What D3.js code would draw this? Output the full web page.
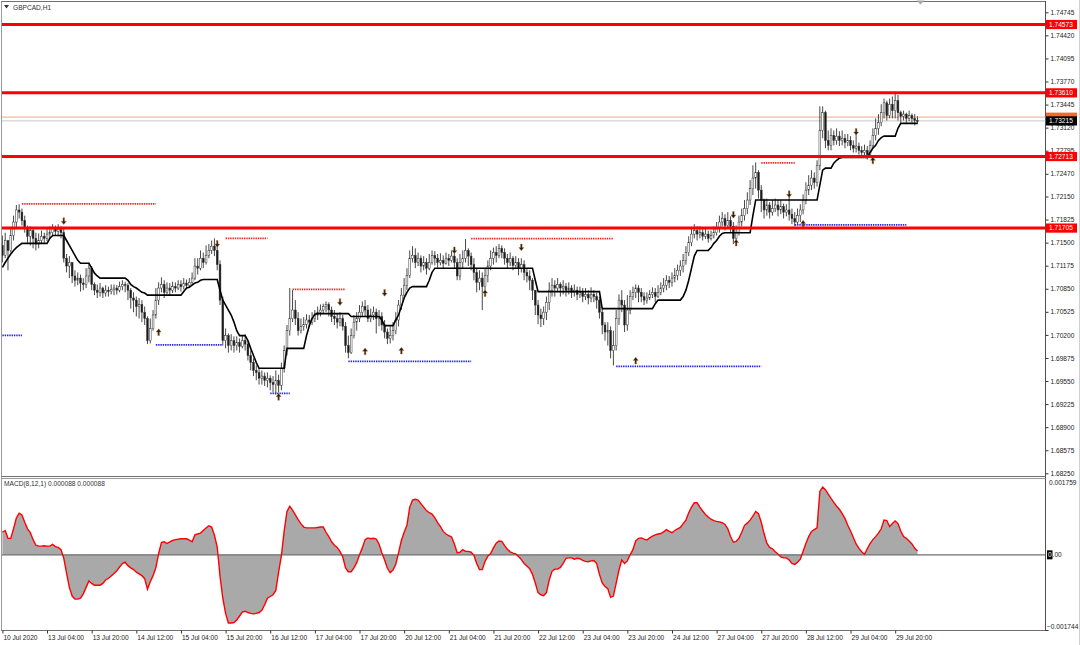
<!DOCTYPE html>
<html><head><meta charset="utf-8">
<script src="https://cdn.jsdelivr.net/npm/d3@7"></script>
<style>body{margin:0;background:#fff}svg{display:block}text{font-family:"Liberation Sans",Arial,sans-serif}</style>
</head><body><svg id="c" width="1080" height="645"></svg>
<script>
// ---------- DATA ----------
// Candle prices are in pips (0.0001) above 1.70000; bar i = i-th H1 bar from 10 Jul 2020 12:00
const BASE = 1.7;
const open0 = 146;
const closeP = [132,153,139,160,179,196,193,181,170,159,
167,156,148,153,159,156,162,164,170,166,
169,164,128,117,122,103,97,100,93,91,
103,114,91,83,80,86,79,83,81,84,
86,83,88,91,90,83,72,69,60,63,
52,43,12,29,48,69,86,91,80,86,
83,88,86,91,88,93,90,94,100,117,
114,128,122,132,139,145,139,119,69,12,
19,5,12,5,9,4,12,7,-9,-19,
-30,-33,-41,-38,-44,-41,-47,-50,-44,-51,
-27,-2,26,43,55,43,26,32,35,41,
38,43,48,52,55,60,63,55,46,43,
38,43,32,5,-5,19,38,43,52,60,
55,43,48,52,43,46,34,24,15,19,
26,41,62,76,90,104,128,132,122,128,
117,122,114,122,132,128,122,125,121,128,
125,131,122,103,122,128,139,131,119,108,
94,100,88,104,117,128,136,132,142,136,
128,122,128,118,122,114,119,108,103,97,
83,62,48,43,52,66,83,90,86,91,
86,88,83,86,80,83,77,80,74,77,
72,77,74,69,52,34,24,26,-2,5,
43,69,62,34,55,74,80,86,80,74,
69,72,77,80,74,80,86,90,97,94,
100,104,111,117,125,136,150,162,167,162,
164,159,162,156,160,164,170,179,184,174,
181,173,156,164,179,188,198,210,226,241,
249,224,210,196,203,193,198,203,196,201,
193,196,190,184,179,188,196,210,224,231,
241,235,259,308,333,294,287,301,294,300,
294,297,291,294,287,283,286,280,277,280,
274,287,301,311,319,333,347,329,345,336,
350,333,328,331,325,329,325,322,321.5];
const highP = [160,164,153,170,188,203,204,198,188,174,
173,170,164,163,167,164,169,173,176,174,
176,173,170,134,131,122,111,108,105,100,
114,122,117,94,91,93,88,90,88,91,
91,90,95,97,95,93,86,80,74,72,
69,60,46,43,55,86,94,101,97,94,
93,95,94,97,97,100,98,100,108,128,
128,139,136,146,148,153,156,145,125,74,
29,22,21,18,18,15,19,21,12,-2,
-13,-23,-27,-30,-33,-33,-37,-38,-30,-36,
-19,5,34,86,83,69,52,43,45,49,
48,52,55,60,63,64,67,66,60,55,
50,52,48,38,19,29,48,52,62,67,
69,62,57,60,57,55,52,41,29,32,
38,52,69,86,100,114,139,145,142,136,
132,131,128,134,139,138,134,135,132,136,
134,139,136,128,134,139,155,142,136,128,
114,111,108,114,125,139,143,145,148,146,
142,134,136,131,131,128,128,125,114,111,
100,83,69,57,60,74,94,100,97,100,
94,97,93,94,90,91,88,88,86,86,
83,87,83,80,74,57,38,38,32,26,
55,77,83,69,76,83,88,91,90,86,
80,80,83,87,86,90,94,100,104,103,
108,114,119,125,134,145,159,170,176,173,
173,170,169,167,167,173,179,188,193,190,
193,187,179,174,188,198,210,221,238,259,
263,252,231,212,212,207,210,212,210,210,
205,204,215,198,193,198,204,218,235,245,
252,249,266,342,342,336,308,311,308,311,
307,308,303,303,300,294,308,291,286,288,
286,294,311,325,331,345,353,350,353,356,
360,358,336,336,333,336,332,331,328];
const lowP = [122,128,111,136,153,170,184,174,164,150,
146,142,139,142,148,150,152,156,159,160,
159,156,122,108,100,93,88,90,81,83,
86,94,83,76,72,74,72,74,74,77,
76,77,80,83,80,69,57,52,46,43,
38,34,7,8,26,43,62,80,72,77,
76,79,80,83,81,84,84,86,90,97,
105,111,114,119,128,134,131,111,62,5,
1,-5,-2,-5,-2,-5,1,-2,-16,-30,
-38,-44,-50,-50,-52,-54,-58,-61,-64,-61,
-58,-33,-9,19,38,34,19,22,26,29,
31,34,38,41,46,49,52,46,38,34,
29,32,26,-5,-13,-7,15,26,38,46,
46,38,38,41,22,32,26,15,7,8,
12,21,32,55,72,83,100,122,114,117,
108,111,105,111,119,118,115,118,114,119,
117,122,114,97,97,114,122,117,111,97,
80,83,55,83,94,111,119,122,128,128,
119,114,117,111,114,104,108,97,94,83,
69,48,35,31,34,41,55,74,74,80,
74,77,74,77,72,74,69,72,66,69,
63,66,66,57,43,21,12,5,-13,-23,
-2,34,52,24,26,49,69,72,66,66,
62,64,69,72,66,72,76,80,83,86,
88,94,97,103,108,119,131,145,156,153,
156,153,155,150,153,156,160,164,173,167,
170,164,148,150,160,173,181,190,203,217,
226,212,193,184,188,184,188,193,187,190,
184,187,181,176,173,176,179,190,204,217,
224,226,229,252,297,283,280,280,287,288,
286,287,283,286,280,277,277,274,271,270,
267,270,283,294,302,314,325,322,325,325,
325,322,319,322,319,321,319,315,317];
// black trailing line, pips above 1.70000
const trailP = [115,122,128,134,139,143,146,149,149,149,
149,149,149,149,149,149,149,156,160,160,
160,160,160,153,146,139,132,125,121,121,
121,121,114,107,103,100,100,100,100,100,
100,100,100,100,100,97,91,88,86,83,
80,79,76,76,76,76,76,76,76,76,
76,76,76,76,76,81,86,87,90,93,
94,97,98,98,98,98,98,98,83,69,
62,55,48,38,26,19,19,19,12,1,
-9,-19,-27,-27,-27,-27,-27,-27,-27,-27,
-27,-27,1,1,1,1,1,1,1,19,
33,43,49,50,50,50,50,50,50,50,
50,50,50,50,50,46,46,46,46,46,
46,46,46,46,46,46,41,33,33,33,
33,41,48,60,72,80,86,88,88,88,
88,88,88,97,108,114,114,114,114,114,
114,114,114,114,114,114,114,114,114,114,
114,114,114,114,114,114,114,114,114,114,
114,114,114,114,114,114,114,114,114,114,
114,97,81,81,81,81,81,81,81,81,
81,81,81,81,81,81,81,81,81,81,
81,81,81,81,81,57,57,57,57,57,
57,57,57,57,57,57,57,57,57,57,
57,57,57,57,64,69,69,69,69,69,
69,69,69,69,74,83,97,114,131,139,
139,139,139,139,143,149,153,159,163,164,
164,164,164,164,164,164,164,164,164,188,
210,210,210,210,210,210,210,210,210,210,
210,210,210,210,210,210,210,210,210,210,
210,210,210,231,252,255,255,255,262,266,
269,270,270,270,270,270,270,270,270,270,
270,277,283,287,294,298,300,300,300,300,
300,311,318,318,318,318,318,318,318];
// MACD(8,12,1) main value, units of 0.00001
const macdV = [52,56,38,38,60,85,96,92,75,60,
51,35,22,20,20,21,20,20,24,19,
17,12,-8,-42,-75,-95,-102,-102,-100,-90,
-75,-60,-66,-70,-70,-70,-66,-58,-54,-49,
-43,-37,-28,-20,-17,-25,-30,-34,-40,-44,
-48,-55,-79,-62,-48,-30,3,28,30,26,
30,33,35,36,37,37,37,34,30,46,
48,50,56,62,67,64,45,18,-49,-100,
-135,-157,-157,-156,-150,-141,-132,-130,-133,-135,
-136,-135,-133,-128,-115,-100,-96,-92,-82,-40,
-2,55,100,112,103,92,81,72,64,62,
62,62,62,63,64,64,52,42,30,22,
17,8,-5,-30,-39,-39,-30,-18,0,16,
35,39,37,38,36,25,5,-12,-31,-41,
-35,-22,5,33,52,68,110,126,128,126,
118,110,102,97,94,85,74,65,54,48,
44,41,25,5,6,12,8,8,6,-1,
-20,-34,-34,-15,-3,3,16,27,32,31,
21,13,7,4,2,-4,-11,-20,-26,-32,
-45,-65,-87,-92,-94,-87,-58,-38,-33,-33,
-29,-20,-8,-7,-7,-10,-8,-9,-13,-15,
-16,-14,-13,-20,-45,-65,-73,-78,-98,-95,
-65,-35,-12,-20,-14,0,12,32,38,39,
36,34,39,43,46,48,49,53,58,54,
51,56,60,63,72,80,97,110,120,120,
110,101,93,87,82,79,77,76,74,70,
60,42,29,31,38,52,68,73,80,89,
100,95,75,49,27,17,14,7,2,-5,
-7,-7,-12,-20,-22,-17,-10,8,26,42,
54,58,62,146,156,150,140,130,121,112,
105,95,84,68,55,40,25,15,7,1,
14,26,35,42,50,60,80,79,65,72,
78,72,55,42,38,32,25,15,9];

const priceTicks = [1.74745,1.74420,1.74095,1.73770,1.73445,1.73120,1.72795,1.72470,1.72150,1.71825,1.71500,1.71175,1.70850,1.70525,1.70200,1.69875,1.69550,1.69225,1.68900,1.68575,1.68250];
const timeTickBars = [0,16,32,48,64,80,96,112,128,144,160,176,192,208,224,240,256,272,288,304,320];
const timeTickLabels = ["10 Jul 2020","13 Jul 04:00","13 Jul 20:00","14 Jul 12:00","15 Jul 04:00","15 Jul 20:00","16 Jul 12:00","17 Jul 04:00","17 Jul 20:00","20 Jul 12:00","21 Jul 04:00","21 Jul 20:00","22 Jul 12:00","23 Jul 04:00","23 Jul 20:00","24 Jul 12:00","27 Jul 04:00","27 Jul 20:00","28 Jul 12:00","29 Jul 04:00","29 Jul 20:00"];
const levelPrices = [1.74573,1.73610,1.72713,1.71705];
const askPrice = 1.73267, bidPrice = 1.73215;
const resPrice = [1.72047,1.71561,1.70842,1.71555,1.72624];
const resFrom = [7,80,104,168,272];
const resTo = [55,95,123,219,284];
const supPrice = [1.70194,1.70060,1.69377,1.69828,1.69757,1.71751];
const supFrom = [0,55,96,124,220,284];
const supTo = [7,79,103,168,272,324];
const downBars = [22,77,121,137,162,186,262,282,306];
const downPrices = [1.71800,1.71480,1.70660,1.70790,1.71390,1.71430,1.71890,1.72180,1.73060];
const upBars = [56,99,130,143,173,227,263,287,312];
const upPrices = [1.70240,1.69330,1.69970,1.69980,1.70790,1.69840,1.71500,1.71770,1.72660];
const macdMax = 0.001759, macdMin = -0.001744;
const title = "GBPCAD,H1";
const macdTitle = "MACD(8,12,1) 0.000088 0.000088";

// ---------- DRAWING ----------
const FS = 6.6;
const svg = d3.select("#c");
const n = closeP.length;
const px = v => BASE + v / 10000;
const x = d3.scaleLinear().domain([0, 328]).range([2.4, 917.5]);
const y = d3.scaleLinear().domain([1.68250, 1.74745]).range([473.3, 12.3]);
const ym = d3.scaleLinear().domain([macdMin, macdMax]).range([630.5, 478.5]);
const R = 1045.5;

svg.append("rect").attr("width", 1080).attr("height", 645).attr("fill", "#fff");
const defs = svg.append("defs");
defs.append("clipPath").attr("id", "cm").append("rect").attr("x", 2).attr("y", 2).attr("width", R - 2).attr("height", 474);
defs.append("clipPath").attr("id", "cd").append("rect").attr("x", 2).attr("y", 479).attr("width", R - 2).attr("height", 151);

// frames
const frame = svg.append("g").attr("fill", "none");
frame.append("line").attr("x1", 1.5).attr("x2", 1.5).attr("y1", 1).attr("y2", 631).attr("stroke", "#9a9a9a");
frame.append("line").attr("x1", 1.5).attr("x2", R).attr("y1", 1.5).attr("y2", 1.5).attr("stroke", "#707070");
frame.append("line").attr("x1", R).attr("x2", R).attr("y1", 1).attr("y2", 631).attr("stroke", "#505050");
frame.append("line").attr("x1", 1.5).attr("x2", R).attr("y1", 476.5).attr("y2", 476.5).attr("stroke", "#707070");
frame.append("line").attr("x1", 1.5).attr("x2", R).attr("y1", 478.5).attr("y2", 478.5).attr("stroke", "#9a9a9a");
frame.append("line").attr("x1", 1.5).attr("x2", R).attr("y1", 630.5).attr("y2", 630.5).attr("stroke", "#707070");
frame.append("line").attr("x1", 1079.5).attr("x2", 1079.5).attr("y1", 0).attr("y2", 645).attr("stroke", "#d0d0d0");

const main = svg.append("g").attr("clip-path", "url(#cm)");

// bid / ask lines
main.append("line").attr("x1", 2).attr("x2", R).attr("y1", y(askPrice)).attr("y2", y(askPrice)).attr("stroke", "#f6b79a").attr("stroke-width", 1.2);
main.append("line").attr("x1", 2).attr("x2", R).attr("y1", y(bidPrice)).attr("y2", y(bidPrice)).attr("stroke", "#c8c8c8").attr("stroke-width", 1);

// candles
const idx = d3.range(n);
const openOf = i => i === 0 ? open0 : closeP[i - 1];
const cg = main.append("g");
cg.selectAll("line.w").data(idx).join("line")
  .attr("x1", i => x(i)).attr("x2", i => x(i))
  .attr("y1", i => y(px(highP[i]))).attr("y2", i => y(px(lowP[i])))
  .attr("stroke", "#333").attr("stroke-width", 0.9);
cg.selectAll("rect.b").data(idx).join("rect")
  .attr("x", i => x(i) - 0.9).attr("width", 1.8)
  .attr("y", i => y(px(Math.max(openOf(i), closeP[i]))))
  .attr("height", i => Math.max(0.8, Math.abs(y(px(openOf(i))) - y(px(closeP[i])))))
  .attr("fill", i => closeP[i] >= openOf(i) ? "#fff" : "#1a1a1a")
  .attr("stroke", "#333").attr("stroke-width", 0.5);

// trailing black line
main.append("path").datum(trailP)
  .attr("d", d3.line().x((d, i) => x(i)).y(d => y(px(d))))
  .attr("fill", "none").attr("stroke", "#000").attr("stroke-width", 1.6);

// fractal dotted levels
main.selectAll("line.res").data(resPrice).join("line")
  .attr("x1", (d, i) => x(resFrom[i])).attr("x2", (d, i) => x(resTo[i]))
  .attr("y1", d => y(d)).attr("y2", d => y(d))
  .attr("stroke", "#ff2020").attr("stroke-width", 1.8).attr("stroke-dasharray", "1.4 0.9");
main.selectAll("line.sup").data(supPrice).join("line")
  .attr("x1", (d, i) => x(supFrom[i])).attr("x2", (d, i) => x(supTo[i]))
  .attr("y1", d => y(d)).attr("y2", d => y(d))
  .attr("stroke", "#2020ff").attr("stroke-width", 1.8).attr("stroke-dasharray", "1.4 0.9");

// arrows
function arrowPath(cx, cy, down) {
  const s = down ? 1 : -1;
  return `M${cx - 0.8},${cy - 3.5 * s} L${cx + 0.8},${cy - 3.5 * s} L${cx + 0.8},${cy} L${cx + 2.5},${cy} L${cx},${cy + 3.2 * s} L${cx - 2.5},${cy} L${cx - 0.8},${cy} Z`;
}
main.selectAll("path.dn").data(downBars).join("path")
  .attr("d", (b, i) => arrowPath(x(b), y(downPrices[i]), true))
  .attr("fill", "#1c1c1c").attr("stroke", "#c17a2e").attr("stroke-width", 0.5);
main.selectAll("path.up").data(upBars).join("path")
  .attr("d", (b, i) => arrowPath(x(b), y(upPrices[i]), false))
  .attr("fill", "#1c1c1c").attr("stroke", "#c17a2e").attr("stroke-width", 0.5);

// red horizontal levels
main.selectAll("line.lv").data(levelPrices).join("line")
  .attr("x1", 2).attr("x2", R).attr("y1", d => y(d)).attr("y2", d => y(d))
  .attr("stroke", "#ff0000").attr("stroke-width", 3);

// right price axis
const ay = svg.append("g").attr("transform", `translate(${R},0)`)
  .call(d3.axisRight(y).tickValues(priceTicks).tickFormat(d3.format(".5f")).tickSize(3).tickPadding(2));
ay.select(".domain").remove();
ay.selectAll("line").attr("stroke", "#333");
ay.selectAll("text").attr("font-size", FS).attr("fill", "#222").attr("font-family", '"Liberation Sans",Arial,sans-serif');

// level labels
const lab = svg.append("g");
function priceLabel(p, bg, fg, withText) {
  lab.append("rect").attr("x", 1046).attr("y", y(p) - 4.6).attr("width", 31).attr("height", 9.2).attr("fill", bg);
  if (withText) lab.append("text").attr("x", 1049).attr("y", y(p) + 2.4).attr("font-size", FS).attr("fill", fg).text(d3.format(".5f")(p));
}
levelPrices.forEach(p => priceLabel(p, "#ff0000", "#fff", true));
priceLabel(askPrice, "#f26b2a", "#fff", false); // ask label lies under the bid label; its text is hidden
priceLabel(bidPrice, "#000", "#fff", true);

// bottom time axis
const ax = svg.append("g").attr("transform", "translate(0,630.5)")
  .call(d3.axisBottom(x).tickValues(timeTickBars).tickFormat((d, i) => timeTickLabels[i]).tickSize(3).tickPadding(1.5));
ax.select(".domain").remove();
ax.selectAll("line").attr("stroke", "#333");
ax.selectAll("text").attr("text-anchor", "start").attr("x", 0.5).attr("font-size", FS).attr("fill", "#222").attr("font-family", '"Liberation Sans",Arial,sans-serif');

// MACD panel
const md = svg.append("g").attr("clip-path", "url(#cd)");
md.append("path").datum(macdV)
  .attr("d", d3.area().x((d, i) => x(i)).y0(ym(0)).y1(d => ym(d / 1e5)))
  .attr("fill", "#a9a9a9");
md.append("line").attr("x1", 2).attr("x2", R).attr("y1", ym(0)).attr("y2", ym(0)).attr("stroke", "#6e6e6e").attr("stroke-width", 1.4);
md.append("path").datum(macdV)
  .attr("d", d3.line().x((d, i) => x(i)).y(d => ym(d / 1e5)))
  .attr("fill", "none").attr("stroke", "#ff0000").attr("stroke-width", 1.4);

const mr = svg.append("g").attr("font-size", FS).attr("fill", "#222");
mr.append("text").attr("x", 1049).attr("y", 484.5).text(d3.format(".6f")(macdMax));
mr.append("text").attr("x", 1047).attr("y", 628.5).text(d3.format(".6f")(macdMin));
mr.append("rect").attr("x", 1047).attr("y", ym(0) - 4.5).attr("width", 5.5).attr("height", 9).attr("fill", "#000");
mr.append("text").attr("x", 1048).attr("y", ym(0) + 2.4).attr("fill", "#fff").text("0");
mr.append("text").attr("x", 1052.6).attr("y", ym(0) + 2.4).text(".00");
svg.append("line").attr("x1", R).attr("x2", R + 3).attr("y1", 630.5).attr("y2", 630.5).attr("stroke", "#333");

// titles
svg.append("path").attr("d", "M4,5 L9,5 L6.5,8.5 Z").attr("fill", "#333");
svg.append("text").attr("x", 13).attr("y", 9.5).attr("font-size", FS).attr("fill", "#333").text(title);
svg.append("text").attr("x", 4).attr("y", 486).attr("font-size", FS).attr("fill", "#333").text(macdTitle);
// chart-shift marker
svg.append("path").attr("d", `M${x(328) - 1},0.5 L${x(328) + 7},0.5 L${x(328) + 3},4.5 Z`).attr("fill", "#a8a8a8");
</script>
</body></html>
